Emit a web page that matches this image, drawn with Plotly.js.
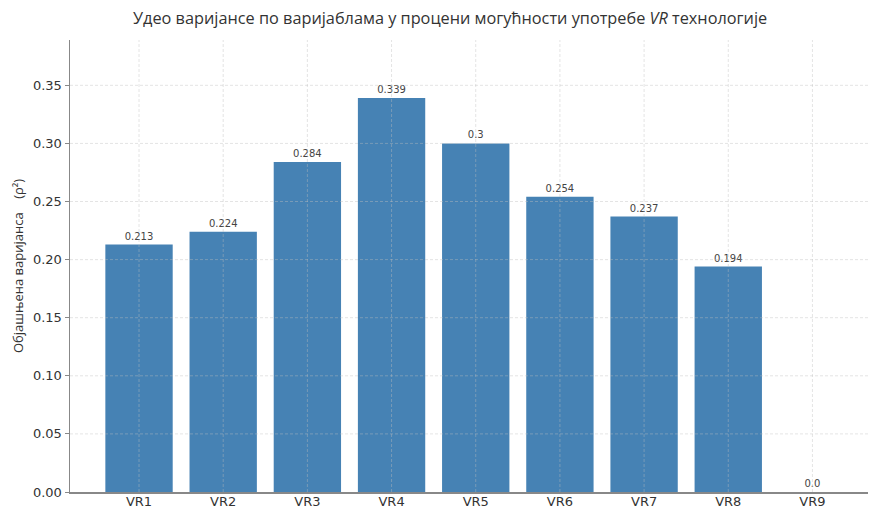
<!DOCTYPE html>
<html><head><meta charset="utf-8">
<script src="https://cdn.plot.ly/plotly-3.0.1.min.js"></script>
<style>body{margin:0;background:#fff}#c{width:870px;height:509px}</style>
</head><body><div id="c"></div>
<script>
const categories = ["VR1","VR2","VR3","VR4","VR5","VR6","VR7","VR8","VR9"];
const values = [0.213,0.224,0.284,0.339,0.3,0.254,0.237,0.194,0.0];
const labels = ["0.213","0.224","0.284","0.339","0.3","0.254","0.237","0.194","0.0"];
const yTicks = [0,0.05,0.10,0.15,0.20,0.25,0.30,0.35];
const yTickText = ["0.00","0.05","0.10","0.15","0.20","0.25","0.30","0.35"];

const font = "DejaVu Sans, sans-serif";
const titleFont = "Open Sans, Noto Sans, sans-serif";
const gridStyle = {color:"rgba(190,190,190,0.6)", width:0.7, dash:"3px,2px"};
const shapes = [];
categories.forEach(c => shapes.push({type:"line", layer:"above", xref:"x", yref:"paper", x0:c, x1:c, y0:0, y1:1, line:gridStyle}));
yTicks.slice(1).forEach(t => shapes.push({type:"line", layer:"above", xref:"paper", yref:"y", x0:0, x1:1, y0:t, y1:t, line:gridStyle}));

const trace = {
  type:"bar", x:categories, y:values, width:0.8,
  marker:{color:"#4682b4", line:{color:"#4682b4", width:0}},
  text:labels, textposition:"outside", cliponaxis:false,
  textfont:{family:font, size:10, color:"#444"},
  hoverinfo:"none"
};
const layout = {
  width:870, height:509,
  margin:{l:70, r:2, t:40, b:17},
  paper_bgcolor:"#fff", plot_bgcolor:"#fff",
  showlegend:false,
  font:{family:font},
  xaxis:{type:"category", range:[-0.82,8.66], showgrid:false, zeroline:false,
    showline:true, linecolor:"#888", linewidth:1.5,
    ticks:"", ticklabelstandoff:-3,
    tickfont:{family:font, size:13, color:"#333"}},
  yaxis:{range:[0,0.389], tickvals:yTicks, ticktext:yTickText, showgrid:false, zeroline:false,
    showline:true, linecolor:"#888", linewidth:1.5,
    ticks:"outside", ticklen:4, tickcolor:"#888",
    tickfont:{family:font, size:13, color:"#333"}},
  shapes:shapes,
  annotations:[
    {text:"Удео варијансе по варијаблама у процени могућности употребе <i>VR</i> технологије",
     xref:"paper", yref:"paper", x:0.476, y:1, yshift:22, xanchor:"center", yanchor:"middle",
     showarrow:false, font:{family:titleFont, size:16.3, color:"#333"}},
    {text:"Објашњена варијанса    (ρ²)", xref:"paper", yref:"paper", x:0, xshift:-52, y:0.5,
     textangle:-90, xanchor:"center", yanchor:"middle", showarrow:false,
     font:{family:titleFont, size:13, color:"#333"}}
  ]
};
Plotly.newPlot("c",[trace],layout,{displayModeBar:false,staticPlot:true});
</script></body></html>
